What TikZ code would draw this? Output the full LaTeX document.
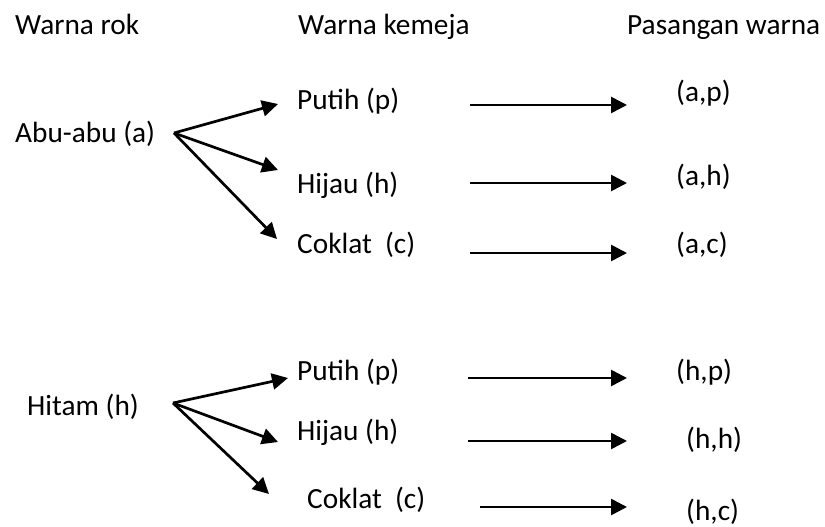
\documentclass[tikz,border=0pt]{standalone}
\usepackage{fontspec}
\setmainfont{Carlito}
\usetikzlibrary{arrows.meta}
\begin{document}
\begin{tikzpicture}[x=1pt,y=-1pt,
  lbl/.style={anchor=base west,inner sep=0pt,font=\fontsize{29.3}{35}\selectfont},
  arr/.style={line width=2.7pt,-{Triangle[length=16pt,width=16pt]}}]
\useasboundingbox (0,0) rectangle (825,527);
% headers
\node[lbl] (h1) at (15,35) {Warna rok};
\node[lbl] (h2) at (298,35) {Warna kemeja};
\node[lbl] (h3) at (627,35) {Pasangan warna};
% top group
\node[lbl] (a) at (15,142) {Abu-abu (a)};
\node[lbl] (ap) at (297,110) {Putih (p)};
\node[lbl] (ah) at (297,193) {Hijau (h)};
\node[lbl] (ac) at (297,253) {Coklat\ \ (c)};
\node[lbl] (rap) at (676,102) {(a,p)};
\node[lbl] (rah) at (676,185) {(a,h)};
\node[lbl] (rac) at (676,253) {(a,c)};
\coordinate (ao) at (174,133);
\coordinate (apt) at (278,104);
\coordinate (aht) at (278,170);
\coordinate (act) at (277,239);
\draw[arr] (ao) -- (apt);
\draw[arr] (ao) -- (aht);
\draw[arr] (ao) -- (act);
\coordinate (ap1) at (470,105); \coordinate (ap2) at (627,105);
\coordinate (ah1) at (470,183); \coordinate (ah2) at (627,183);
\coordinate (ac1) at (470,253); \coordinate (ac2) at (627,253);
\draw[arr] (ap1) -- (ap2);
\draw[arr] (ah1) -- (ah2);
\draw[arr] (ac1) -- (ac2);
% bottom group
\node[lbl] (b) at (27,415) {Hitam (h)};
\node[lbl] (bp) at (297,380) {Putih (p)};
\node[lbl] (bh) at (297,440) {Hijau (h)};
\node[lbl] (bc) at (307,508) {Coklat\ \ (c)};
\node[lbl] (rbp) at (676,380) {(h,p)};
\node[lbl] (rbh) at (686,448) {(h,h)};
\node[lbl] (rbc) at (686,520) {(h,c)};
\coordinate (bo) at (173,403);
\coordinate (bpt) at (288,378);
\coordinate (bht) at (278,442);
\coordinate (bct) at (269,494);
\draw[arr] (bo) -- (bpt);
\draw[arr] (bo) -- (bht);
\draw[arr] (bo) -- (bct);
\coordinate (bp1) at (468,378); \coordinate (bp2) at (627,378);
\coordinate (bh1) at (468,441); \coordinate (bh2) at (627,441);
\coordinate (bc1) at (480,507); \coordinate (bc2) at (627,507);
\draw[arr] (bp1) -- (bp2);
\draw[arr] (bh1) -- (bh2);
\draw[arr] (bc1) -- (bc2);
\end{tikzpicture}
\end{document}
